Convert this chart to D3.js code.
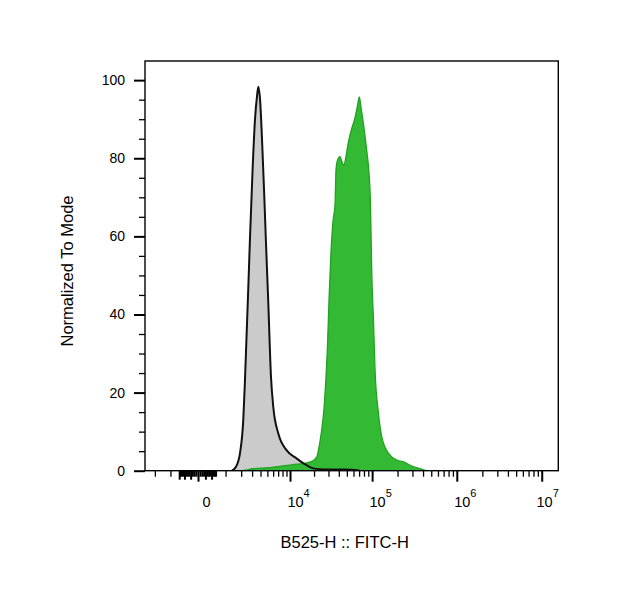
<!DOCTYPE html>
<html>
<head>
<meta charset="utf-8">
<script src="https://cdn.jsdelivr.net/npm/d3@7"></script>
<style>
  body { margin: 0; background: #fff; }
  svg { display: block; font-family: "Liberation Sans", Arial, sans-serif; }
</style>
</head>
<body>
<script>
// control (unstained) histogram: fluorescence, % of mode
const controlX = [1360, 1620, 1910, 2170, 2300, 2450, 2620, 2790, 3050, 3320, 3560, 3720,
  3940, 4200, 4490, 4790, 5150, 5610, 6030, 7040, 9070, 12200, 16200, 19600, 23700,
  41400, 62600, 71800];
const controlY = [0, 1, 4.5, 13, 22, 34, 47, 60, 77, 90, 96, 98.3,
  95, 85, 72, 58, 43, 24, 16.3, 9.5, 5.2, 3.1, 1.4, 0.6, 0.4,
  0.3, 0.2, 0];

// stained sample histogram
const stainedX = [-2890, 2000, 3100, 5440, 10500, 17800, 21600, 23000, 24800, 26500, 28000,
  29200, 30500, 32200, 34100, 36000, 37000, 38600, 41400, 43700, 46200, 48800, 52000,
  57100, 62600, 67000, 70400, 73800, 78600, 86200, 91900, 95700, 98900, 103900, 108200,
  118400, 130000, 142200, 155600, 195600, 232000, 280800, 368500, 457900, 15670000];
const stainedY = [0, 0, 0.5, 0.8, 1.5, 2.2, 3.5, 6, 10.4, 16, 24,
  32, 44, 56, 64, 68, 77, 79.5, 80.4, 79, 78.2, 80.5, 84,
  87.6, 90.4, 93.5, 95.7, 93, 89, 82, 76, 68, 51, 38, 26,
  15, 8.7, 6, 4.5, 2.7, 2.3, 1.4, 0.5, 0, 0];

const xMajor = [0, 1e4, 1e5, 1e6, 1e7];
const xExponents = ["", "4", "5", "6", "7"];
const yMajor = [0, 20, 40, 60, 80, 100];

const xTitle = "B525-H :: FITC-H";
const yTitle = "Normalized To Mode";

const W = 619, H = 609;
const pLeft = 145, pRight = 558.3, pTop = 61, pBottom = 470.7;

const svg = d3.select("body").append("svg")
  .attr("width", W)
  .attr("height", H);

svg.append("rect").attr("width", W).attr("height", H).attr("fill", "#fff");

// biexponential-like display, symlog is close enough
const x = d3.scaleSymlog().constant(901)
  .domain([-2890, 15670000])
  .range([pLeft, pRight]);
const y = d3.scaleLinear().domain([0, 104.9]).range([pBottom, pTop]);

svg.append("clipPath").attr("id", "plot")
  .append("rect")
  .attr("x", pLeft).attr("y", pTop)
  .attr("width", pRight - pLeft).attr("height", pBottom - pTop);

const plot = svg.append("g").attr("clip-path", "url(#plot)");

const control = controlX.map((v, i) => [v, controlY[i]]);
const stained = stainedX.map((v, i) => [v, stainedY[i]]);

const area = d3.area()
  .x(d => x(d[0]))
  .y0(y(0))
  .y1(d => y(d[1]))
  .curve(d3.curveMonotoneX);
const line = d3.line()
  .x(d => x(d[0]))
  .y(d => y(d[1]))
  .curve(d3.curveMonotoneX);

plot.append("path")
  .datum(control)
  .attr("fill", "#cbcbcb")
  .attr("d", area);

plot.append("path")
  .datum(stained)
  .attr("fill", "#34b934")
  .attr("stroke", "#1fa31f")
  .attr("stroke-width", 1.3)
  .attr("d", area);

plot.append("path")
  .datum(control)
  .attr("fill", "none")
  .attr("stroke", "#111")
  .attr("stroke-width", 2)
  .attr("d", line);

// frame
svg.append("rect")
  .attr("x", pLeft).attr("y", pTop)
  .attr("width", pRight - pLeft).attr("height", pBottom - pTop)
  .attr("fill", "none")
  .attr("stroke", "#000")
  .attr("stroke-width", 1.4);

// minor ticks on the x axis; the ones around zero pile up into a dark block
var xMinor = [-2000, -1000];
for (let v = -600; v <= 550; v += 50) if (v !== 0) xMinor.push(v);
[1e3, 1e4, 1e5, 1e6].forEach(dec => {
  for (let k = (dec === 1e3 ? 1 : 2); k <= 9; k++) xMinor.push(k * dec);
});

const xAxisG = svg.append("g").attr("transform", `translate(0,${pBottom})`);

xAxisG.append("g")
  .call(d3.axisBottom(x).tickValues(xMinor).tickSize(6).tickFormat(""))
  .call(g => g.select(".domain").remove())
  .call(g => g.selectAll("line")
    .attr("stroke-width", d => Math.abs(d) < 1000 ? 2 : 1.3)
    .attr("y2", d => (Math.abs(d) < 1000 && Math.abs(d) % 200 === 0) ? 9 : 6));

const xMaj = xAxisG.append("g")
  .call(d3.axisBottom(x).tickValues(xMajor).tickSize(11).tickFormat(""))
  .call(g => g.select(".domain").remove())
  .call(g => g.selectAll("line").attr("stroke-width", 2));

xMaj.selectAll(".tick").each(function(d, i) {
  const t = d3.select(this).append("text")
    .attr("fill", "#000")
    .attr("text-anchor", "middle")
    .attr("x", 8)
    .attr("y", 36)
    .attr("font-size", 14.5);
  if (d === 0) {
    t.text("0");
  } else {
    t.append("tspan").text("10");
    t.append("tspan").attr("dy", -10).attr("font-size", 11).text(xExponents[i]);
  }
  // keep the last label inside the frame like FlowJo does
  const bb = t.node().getBBox();
  const tx = x(d) + 8 + bb.width / 2;
  if (tx > pRight) t.attr("x", 8 - (tx - pRight));
});

// y axis
const yMinor = d3.range(0, 101, 5).filter(v => v % 20 !== 0);
const yAxisG = svg.append("g").attr("transform", `translate(${pLeft},0)`);

yAxisG.append("g")
  .call(d3.axisLeft(y).tickValues(yMinor).tickSize(6).tickFormat(""))
  .call(g => g.select(".domain").remove())
  .call(g => g.selectAll("line").attr("stroke-width", 1.3));

yAxisG.append("g")
  .call(d3.axisLeft(y).tickValues(yMajor).tickSize(11).tickPadding(9))
  .call(g => g.select(".domain").remove())
  .call(g => g.selectAll("line").attr("stroke-width", 2))
  .call(g => g.selectAll("text")
    .attr("font-size", 14)
    .attr("font-family", "Liberation Sans, Arial, sans-serif")
    .attr("fill", "#000"));

// titles
svg.append("text")
  .attr("x", (pLeft + pRight) / 2 - 7)
  .attr("y", 548)
  .attr("text-anchor", "middle")
  .attr("font-size", 16.5)
  .text(xTitle);

svg.append("text")
  .attr("transform", "translate(73,271) rotate(-90)")
  .attr("text-anchor", "middle")
  .attr("font-size", 16.5)
  .text(yTitle);
</script>
</body>
</html>
